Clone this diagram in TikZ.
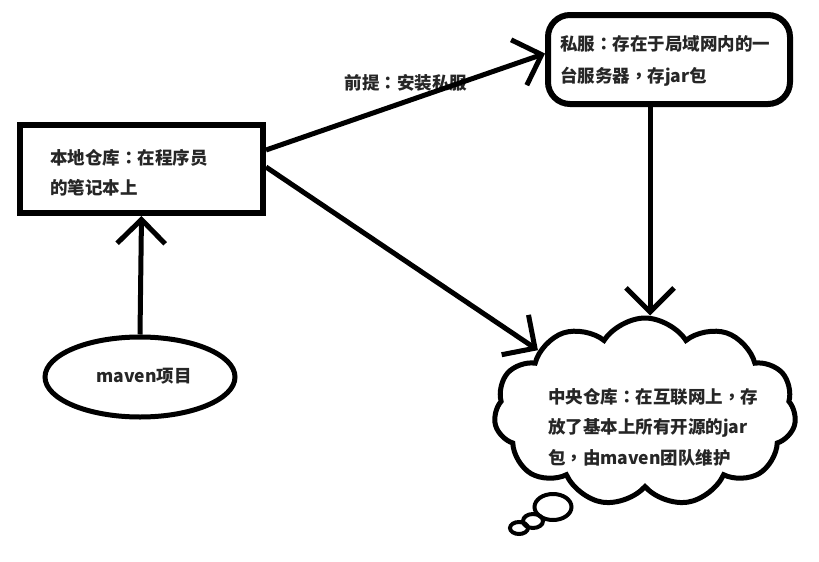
\documentclass[tikz,border=0pt]{standalone}
\usepackage{fontspec}
\setmainfont{Noto Sans CJK SC}
\newfontfamily\tcfont{Noto Sans CJK TC}
\newcommand\qcolon{{\tcfont ：}}
\newcommand\qcomma{{\tcfont ，}}
\usetikzlibrary{arrows.meta,shapes.geometric,shapes.symbols}
\tikzset{
  boxshape/.style={draw, line width=6pt, inner sep=0pt},
  txt/.style={inner sep=0pt, align=left, font=\fontsize{17.5}{30.5}\selectfont\bfseries, text=black!85},
  arr/.style={line width=5pt, -{Straight Barb[length=24pt,width=48pt]}},
  bubble/.style={draw, line width=4pt, ellipse, inner sep=0pt},
}
\begin{document}
\begin{tikzpicture}[x=1pt,y=-1pt]
\useasboundingbox[fill=white] (0,0) rectangle (819,562);
% local repository
\node[boxshape, minimum width=243pt, minimum height=88pt] (local) at (141.5,169) {};
\node[txt, anchor=north west] (localtxt) at (50,149) {本地仓库\qcolon 在程序员\\的笔记本上};
% private server
\node[boxshape, rounded corners=22pt, minimum width=242pt, minimum height=89pt] (priv) at (669,59.5) {};
\node[txt, anchor=north west, font=\fontsize{17.5}{32.5}\selectfont\bfseries] (privtxt) at (560,35) {私服\qcolon 存在于局域网内的一\\台服务器\qcomma 存jar包};
% maven project
\node[draw, ellipse, line width=5pt, minimum width=190pt, minimum height=80pt] (maven) at (140,377) {};
\node[txt] (maventxt) at (144,376) {maven项目};
% central repository cloud
\node[draw, cloud, cloud puffs=11, cloud puff arc=115, cloud ignores aspect, line width=5pt, minimum width=302pt, minimum height=188pt] (cloud) at (645,412) {};
\node[txt, anchor=north west] (cloudtxt) at (548,388) {中央仓库\qcolon 在互联网上\qcomma 存\\放了基本上所有开源的jar\\包\qcomma 由maven团队维护};
\node[bubble, minimum width=37pt, minimum height=26pt] (b1) at (553,507) {};
\node[bubble, minimum width=20pt, minimum height=14pt] (b2) at (533,521) {};
\node[bubble, minimum width=18pt, minimum height=12pt] (b3) at (519,528) {};
% label
\node[txt] (pre) at (406,83) {前提\qcolon 安装私服};
% connectors
\draw[arr] (maven.north) -- (local.south);
\draw[arr] ([yshift=19pt]local.east) -- ([yshift=6pt]priv.west);
\draw[arr] ([yshift=2pt]local.east) -- (cloud.150);
\draw[arr] ([xshift=-19pt]priv.south) -- ([xshift=-19pt]priv.south |- cloud.north);
\end{tikzpicture}
\end{document}
